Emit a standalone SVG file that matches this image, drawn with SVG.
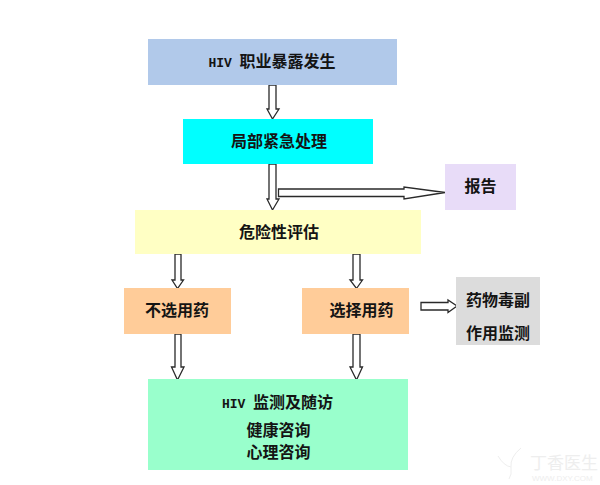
<svg xmlns="http://www.w3.org/2000/svg" width="600" height="485" viewBox="0 0 600 485">
<style>
text{font-family:"Noto Sans CJK SC","Liberation Serif",sans-serif;font-size:16px;font-weight:700;fill:#141414;text-anchor:middle}
.l{font-family:"Liberation Mono","Noto Sans CJK SC",monospace;font-size:13px}
.a{fill:#fff;stroke:#2a2a2a;stroke-width:1.3}
.w{fill:#eeeeee;font-weight:400;text-anchor:start}
</style>
<rect width="600" height="485" fill="#fff"/>
<g id="connectors">
<polygon class="a" points="269,85 276,85 276,109 279,109 272.500,119 267,109 269,109"/>
<polygon class="a" points="269,164 276,164 276,199 279,199 272.500,210 267,199 269,199"/>
<polygon class="a" points="278.500,189 404,189 404,187 445,192.500 404,199 404,196.500 278.500,196.500"/>
<polygon class="a" points="175,254 181,254 181,280 183.500,280 177.500,288.500 172,280 175,280"/>
<polygon class="a" points="353,254 360,254 360,280 362.500,280 356.500,288.500 350,280 353,280"/>
<polygon class="a" points="175,334 181,334 181,367 184,367 177.500,380 171.500,367 175,367"/>
<polygon class="a" points="353,334 360,334 360,367 362.500,367 356.500,380 350,367 353,367"/>
<polygon class="a" points="421,302.500 448,302.500 448,300 457,306 448,312.500 448,310 421,310"/>
</g>
<g id="n1"><rect x="148" y="39" width="249" height="46" fill="#b1c9ea"/><text x="272" y="67"><tspan class="l">HIV </tspan>职业暴露发生</text></g>
<g id="n2"><rect x="183" y="119" width="190" height="45" fill="#00ffff"/><text x="279" y="147">局部紧急处理</text></g>
<g id="n3"><rect x="135" y="210" width="286" height="44" fill="#ffffc4"/><text x="279" y="238">危险性评估</text></g>
<g id="n4"><rect x="445" y="164" width="71" height="46" fill="#e8dcf8"/><text x="480.500" y="192">报告</text></g>
<g id="n5"><rect x="124" y="288" width="107" height="46" fill="#ffcc99"/><text x="177" y="316">不选用药</text></g>
<g id="n6"><rect x="302" y="288" width="107" height="46" fill="#ffcc99"/><text x="361.500" y="316">选择用药</text></g>
<g id="n7"><rect x="456" y="277" width="84" height="68" fill="#dcdcdc"/><text x="498" y="306">药物毒副</text><text x="498" y="339">作用监测</text></g>
<g id="n8"><rect x="148" y="379" width="260" height="91" fill="#99ffcc"/><text x="277.500" y="408"><tspan class="l">HIV </tspan>监测及随访</text><text x="278.500" y="436">健康咨询</text><text x="278.500" y="458">心理咨询</text></g>
<g id="watermark"><path d="M498 456q6 10 13 11q-1 -10 10 -19M511 467q1 8 -2 12" fill="none" stroke="#eeeeee"/><text class="w" x="530" y="469" style="font-size:17px">丁香医生</text><text class="w" x="532" y="481" style="font-size:8px;font-family:'Liberation Sans',sans-serif">WWW.DXY.COM</text></g>
</svg>
